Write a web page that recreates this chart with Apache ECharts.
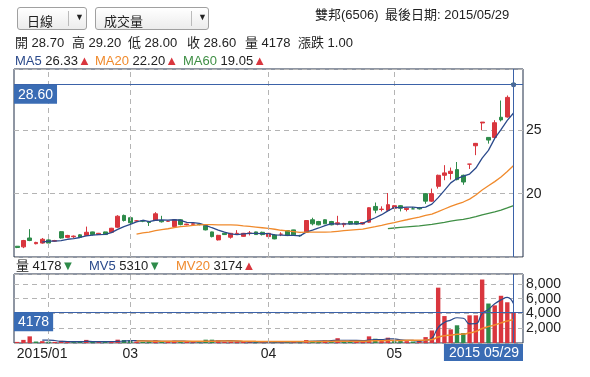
<!DOCTYPE html>
<html>
<head>
<meta charset="utf-8">
<script src="https://cdn.jsdelivr.net/npm/echarts@6/dist/echarts.min.js"></script>
<style>
body{margin:0;background:#fff;font-family:"Liberation Sans",Arial,"Noto Sans CJK TC",sans-serif;color:#222;}
#wrap{position:relative;width:590px;height:377px;overflow:hidden;}
#main{position:absolute;left:0;top:0;width:590px;height:377px;}
.t{position:absolute;font-size:13px;white-space:pre;line-height:16px;}
.sel{position:absolute;top:7px;height:23px;border:1px solid #a0a0a0;border-radius:3px;background:linear-gradient(#fff,#ececec);font-size:13px;box-sizing:border-box;}
.sel span{position:absolute;top:3px;}
.sel i{position:absolute;top:3px;bottom:3px;width:1px;background:#bbb;}
.sel b{position:absolute;top:4px;font-size:9px;font-weight:normal;}
.up{color:#d9363e;font-size:13px;}
.dn{color:#2e8b4a;font-size:13px;}
</style>
</head>
<body>
<div id="wrap">
<div id="main"></div>
<div class="sel" style="left:17px;width:70px;"><span style="left:9px;">日線</span><i style="left:50px;"></i><b style="left:57px;">▼</b></div>
<div class="sel" style="left:95px;width:114px;"><span style="left:8px;">成交量</span><i style="left:95px;"></i><b style="left:102px;">▼</b></div>
<div class="t" style="left:315px;top:7px;">雙邦(6506)</div>
<div class="t" style="left:385px;top:7px;">最後日期: 2015/05/29</div>
<div class="t" style="left:15px;top:35px;">開 28.70</div>
<div class="t" style="left:72px;top:35px;">高 29.20</div>
<div class="t" style="left:128px;top:35px;">低 28.00</div>
<div class="t" style="left:187px;top:35px;">收 28.60</div>
<div class="t" style="left:245px;top:35px;">量 4178</div>
<div class="t" style="left:298px;top:35px;">漲跌 1.00</div>
<div class="t" style="left:15px;top:53px;"><span style="color:#2b4a8b">MA5</span> 26.33<span class="up">▲</span></div>
<div class="t" style="left:95px;top:53px;"><span style="color:#f08a2c">MA20</span> 22.20<span class="up">▲</span></div>
<div class="t" style="left:183px;top:53px;"><span style="color:#3f8f45">MA60</span> 19.05<span class="up">▲</span></div>
<div class="t" style="left:16px;top:258px;">量 4178<span class="dn">▼</span></div>
<div class="t" style="left:89px;top:258px;"><span style="color:#2b4a8b">MV5</span> 5310<span class="dn">▼</span></div>
<div class="t" style="left:176px;top:258px;"><span style="color:#f08a2c">MV20</span> 3174<span class="up">▲</span></div>
</div>
<script>
var dates = [
    '2015/01/26','2015/01/27','2015/01/28','2015/01/29','2015/01/30',
    '2015/02/02','2015/02/03','2015/02/04','2015/02/05','2015/02/06','2015/02/09','2015/02/10','2015/02/11','2015/02/12','2015/02/13','2015/02/24','2015/02/25','2015/02/26',
    '2015/03/02','2015/03/03','2015/03/04','2015/03/05','2015/03/06','2015/03/09','2015/03/10','2015/03/11','2015/03/12','2015/03/13','2015/03/16','2015/03/17','2015/03/18','2015/03/19','2015/03/20','2015/03/23','2015/03/24','2015/03/25','2015/03/26','2015/03/27','2015/03/30','2015/03/31',
    '2015/04/01','2015/04/02','2015/04/07','2015/04/08','2015/04/09','2015/04/10','2015/04/13','2015/04/14','2015/04/15','2015/04/16','2015/04/17','2015/04/20','2015/04/21','2015/04/22','2015/04/23','2015/04/24','2015/04/27','2015/04/28','2015/04/29','2015/04/30',
    '2015/05/04','2015/05/05','2015/05/06','2015/05/07','2015/05/08','2015/05/11','2015/05/12','2015/05/13','2015/05/14','2015/05/15','2015/05/18','2015/05/19','2015/05/20','2015/05/21','2015/05/22','2015/05/25','2015/05/26','2015/05/27','2015/05/28','2015/05/29'
];
var open = [15.85,15.8,16.5,16.05,16.1, 16.35,16.25,17.0,16.55,16.6,16.75,16.7,16.98,16.77,16.98,16.95,17.35,18.28,
    18.1,17.85,17.85,17.8,17.88,17.88,17.82,17.4,17.94,17.55,17.58,17.58,17.48,16.98,16.35,16.87,16.56,16.85,16.63,16.85,16.98,16.95,
    16.61,16.74,16.8,17.09,17.14,16.7,16.95,17.94,17.8,17.94,17.8,17.6,17.55,17.8,17.8,17.6,17.75,18.99,18.75,18.68,
    18.85,19.05,18.75,18.8,18.88,20.0,19.41,20.58,21.45,21.59,21.9,21.45,22.33,23.78,25.58,24.44,24.44,26.03,26.05,28.7];
var close = [15.75,16.3,16.3,16.15,16.4, 16.1,16.3,16.5,16.7,16.65,16.55,16.95,16.77,16.87,16.77,17.27,18.22,17.88,
    17.7,17.85,17.83,17.72,18.41,17.78,17.83,17.94,17.56,17.6,17.62,17.56,17.14,16.61,16.71,16.77,16.87,16.87,16.87,16.9,16.77,16.77,
    16.87,16.43,16.8,16.69,16.75,16.68,17.88,17.62,17.54,17.62,17.54,17.7,17.65,17.6,17.6,17.72,18.89,18.7,18.78,19.13,
    19.05,18.85,18.85,18.8,18.8,19.41,20.0,21.45,21.64,21.77,21.11,20.92,22.33,23.97,25.65,24.23,25.6,25.82,27.6,28.6];
var low = [15.7,15.7,16.25,16.0,16.05, 16.05,16.2,16.45,16.5,16.5,16.5,16.65,16.7,16.75,16.75,16.9,17.3,17.8,
    17.6,17.8,17.75,17.45,17.85,17.72,17.78,17.35,17.5,17.5,17.55,17.5,17.1,16.55,16.3,16.75,16.45,16.78,16.6,16.7,16.75,16.7,
    16.55,16.4,16.65,16.65,16.7,16.6,16.9,17.5,17.5,17.6,17.5,17.5,17.35,17.55,17.55,17.55,17.7,18.45,18.6,18.6,
    18.8,18.6,18.6,18.8,18.75,19.2,19.35,20.4,21.06,21.11,21.05,20.7,21.95,23.04,25.0,23.95,24.3,25.7,26.0,28.0];
var high = [15.85,16.35,17.2,16.2,16.5, 16.4,16.35,17.05,16.75,16.7,16.8,17.4,17.0,16.9,17.0,17.3,18.3,18.35,
    18.15,17.9,17.9,17.85,18.54,18.25,17.88,17.98,17.98,17.62,17.65,17.6,17.5,17.0,16.75,16.9,16.9,17.12,16.9,17.05,17.0,17.0,
    16.9,16.78,16.95,17.1,17.15,16.75,17.9,18.1,17.85,17.97,17.85,18.25,17.7,17.85,17.85,17.75,18.92,19.3,19.0,20.05,
    19.1,19.1,18.9,18.95,18.95,20.05,20.4,21.5,22.25,22.06,22.5,21.5,22.33,24.0,25.65,24.45,25.8,27.35,27.75,29.2];
var volume = [150,420,900,200,250, 180,150,300,150,120,150,420,150,120,130,200,450,400,
    380,200,150,200,380,250,150,300,250,150,120,100,450,450,350,150,200,180,150,130,120,120,
    100,150,100,200,180,120,400,300,300,350,280,650,300,250,250,250,900,580,300,720,
    250,300,250,200,300,800,1700,7500,3650,1850,2400,1350,3750,3750,8600,5350,5100,6400,5520,4178];

var RED = '#d9363e', GREEN = '#2e8b4a', BLUE = '#3b62a8', GRIDC = '#b4b4b4';

function calcMA(arr, n) {
    var out = [];
    for (var i = 0; i < arr.length; i++) {
        if (i < n - 1) { out.push('-'); continue; }
        var s = 0;
        for (var j = i - n + 1; j <= i; j++) s += arr[j];
        out.push(+(s / n).toFixed(2));
    }
    return out;
}

var last = dates.length - 1;
// one empty slot on the right, like the original frame
var cats = dates.concat(['']);

var candles = [];
for (var i = 0; i < dates.length; i++) {
    candles.push([open[i], close[i], low[i], high[i]]);
}

// month starts -> vertical grid lines and labels
var monthStart = {};
var vLines = [];
for (var i = 1; i < dates.length; i++) {
    if (dates[i].slice(5, 7) != dates[i - 1].slice(5, 7)) {
        monthStart[i] = true;
        vLines.push({xAxis: dates[i]});
    }
}

var lineStyleGrid = {color: GRIDC, type: [5, 4], width: 1};
var pointerStyle = {color: BLUE, type: 'solid', width: 1};
var boxLabel = {
    show: true, position: 'insideStartBottom', distance: [0, 0],
    color: '#fff', backgroundColor: '#3a6cb4', padding: [3, 4, 2, 4],
    fontSize: 14, fontFamily: 'Liberation Sans'
};

var myChart = echarts.init(document.getElementById('main'));
myChart.setOption({
    animation: false,
    grid: [
        {left: 14, right: 67, top: 69, height: 188, show: true, borderColor: '#1f2d47', borderWidth: 1},
        {left: 14, right: 67, top: 274, height: 69, show: true, borderColor: '#1f2d47', borderWidth: 1}
    ],
    xAxis: [
        {type: 'category', gridIndex: 0, data: cats, boundaryGap: true,
            axisLine: {show: false}, axisTick: {show: false}, axisLabel: {show: false}, splitLine: {show: false}},
        {type: 'category', gridIndex: 1, data: cats, boundaryGap: true,
            axisLine: {show: false}, axisTick: {show: false}, splitLine: {show: false},
            axisLabel: {
                margin: 4, fontSize: 14, color: '#222', fontFamily: 'Liberation Sans',
                interval: function (idx) { return idx === 0 || (monthStart[idx] && idx > 8); },
                formatter: function (v, idx) {
                    if (idx === 0) return '{a|' + v.slice(0, 7) + '}';
                    return v.slice(5, 7);
                },
                rich: {a: {padding: [0, 0, 0, 50], fontSize: 14, color: '#222', fontFamily: 'Liberation Sans'}}
            }}
    ],
    yAxis: [
        {type: 'value', gridIndex: 0, position: 'right', min: 15, max: 29.84, interval: 5,
            axisLine: {show: false}, axisTick: {show: false},
            axisLabel: {margin: 3, fontSize: 14, color: '#222', fontFamily: 'Liberation Sans', showMinLabel: false, showMaxLabel: false},
            splitLine: {show: true, lineStyle: lineStyleGrid}},
        {type: 'value', gridIndex: 1, position: 'right', min: 0, max: 9350, interval: 2000,
            axisLine: {show: false}, axisTick: {show: false},
            axisLabel: {margin: 3, fontSize: 14, color: '#222', fontFamily: 'Liberation Sans', showMinLabel: false, showMaxLabel: false},
            splitLine: {show: true, lineStyle: lineStyleGrid}}
    ],
    graphic: [{
        type: 'text', right: 590 - 523, top: 344, z: 100,
        style: {
            text: dates[last].slice(0, 4) + ' ' + dates[last].slice(5),
            fill: '#fff', backgroundColor: '#3a6cb4', padding: [2, 4, 1, 5],
            font: '14px "Liberation Sans"'
        }
    }],
    series: [
        {
            type: 'candlestick', xAxisIndex: 0, yAxisIndex: 0, data: candles, barWidth: '68%',
            itemStyle: {color: RED, color0: GREEN, borderColor: RED, borderColor0: GREEN, borderWidth: 1},
            markLine: {silent: true, symbol: 'none', label: {show: false}, lineStyle: lineStyleGrid, data: vLines}
        },
        {type: 'line', xAxisIndex: 0, yAxisIndex: 0, data: calcMA(close, 5), showSymbol: false, lineStyle: {color: '#2b4a8b', width: 1.3}, z: 3},
        {type: 'line', xAxisIndex: 0, yAxisIndex: 0, data: calcMA(close, 20), showSymbol: false, lineStyle: {color: '#f08a2c', width: 1.3}, z: 3},
        {type: 'line', xAxisIndex: 0, yAxisIndex: 0, data: calcMA(close, 60), showSymbol: false, lineStyle: {color: '#3f8f45', width: 1.3}, z: 3,
            markLine: {silent: true, symbol: 'none', lineStyle: pointerStyle, label: {show: false},
                data: [
                    {yAxis: close[last], label: Object.assign({}, boxLabel, {formatter: close[last].toFixed(2)})},
                    {xAxis: dates[last]}
                ]},
            markPoint: {symbol: 'circle', symbolSize: 5, itemStyle: {color: '#4a6a9a'}, label: {show: false},
                data: [{coord: [dates[last], close[last]]}]}
        },
        {
            type: 'bar', xAxisIndex: 1, yAxisIndex: 1, data: volume, barWidth: '70%',
            itemStyle: {color: function (p) {
                var k = p.dataIndex;
                return (k > 0 && close[k] < close[k - 1]) ? GREEN : RED;
            }},
            markLine: {silent: true, symbol: 'none', label: {show: false}, lineStyle: lineStyleGrid, data: vLines}
        },
        {type: 'line', xAxisIndex: 1, yAxisIndex: 1, data: calcMA(volume, 5), smooth: true, showSymbol: false, lineStyle: {color: '#2b4a8b', width: 1.2}, z: 3},
        {type: 'line', xAxisIndex: 1, yAxisIndex: 1, data: calcMA(volume, 20), smooth: true, showSymbol: false, lineStyle: {color: '#f08a2c', width: 1.5}, z: 3,
            markLine: {silent: true, symbol: 'none', lineStyle: pointerStyle, label: {show: false},
                data: [
                    {yAxis: volume[last], label: Object.assign({}, boxLabel, {formatter: String(volume[last])})},
                    {xAxis: dates[last]}
                ]}
        }
    ]
});
</script>
</body>
</html>
